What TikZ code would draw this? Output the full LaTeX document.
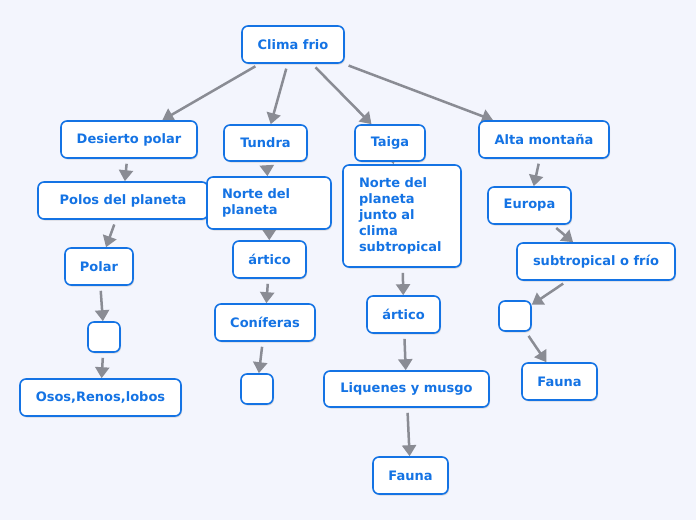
\documentclass[tikz,border=0pt]{standalone}
\usepackage{fontspec}
\setmainfont{DejaVu Sans}
\usetikzlibrary{arrows.meta,shadows}

\definecolor{fondo}{RGB}{243,245,253}
\definecolor{azul}{RGB}{20,115,228}
\definecolor{gris}{RGB}{138,140,148}

\pgfdeclarelayer{fondo}
\pgfdeclarelayer{flechas}
\pgfsetlayers{fondo,flechas,main}

\tikzset{
  tema/.style={draw=azul, line width=1.6pt, rounded corners=6pt, fill=white,
    text=azul, font=\bfseries\fontsize{13}{16}\selectfont,
    minimum height=37pt, inner sep=0pt,
    drop shadow={shadow xshift=1pt, shadow yshift=-1.5pt, opacity=.25}},
  vacio/.style={tema, minimum width=32pt, minimum height=30pt},
  enlace/.style={-{Triangle[width=14pt,length=11pt]}, draw=gris,
    line width=2.5pt, shorten <=5pt}
}

\begin{document}
\begin{tikzpicture}[x=1pt, y=-1pt]
    \begin{pgfonlayer}{fondo}
        \fill[fondo] (0,0) rectangle (696,520);
    \end{pgfonlayer}
    \useasboundingbox (0,0) rectangle (696,520);

    % raiz
    \node[tema, minimum width=102pt] (clima) at (293,44.5) {Clima frio};

    % primer nivel
    \node[tema, minimum width=136pt] (desierto) at (129,139.5) {Desierto polar};
    \node[tema, minimum width=83pt, minimum height=36pt] (tundra) at (265.5,143) {Tundra};
    \node[tema, minimum width=70pt, minimum height=36pt] (taiga) at (390,143) {Taiga};
    \node[tema, minimum width=130pt] (alta) at (544,139.5) {Alta montaña};

    % desierto polar
    \node[tema, minimum width=170pt] (polos) at (123,200.5) {Polos del planeta};
    \node[tema, minimum width=68pt] (polar) at (99,266.5) {Polar};
    \node[vacio] (vacioa) at (104,337) {};
    \node[tema, minimum width=161pt] (osos) at (100.5,397.5) {Osos,Renos,lobos};

    % tundra
    \node[tema, text width=94pt, inner xsep=15pt, minimum height=52pt, align=left]
        (norte) at (269,203) {Norte del\\planeta};
    \node[tema, minimum width=73pt] (articot) at (269.5,259.5) {ártico};
    \node[tema, minimum width=100pt] (coniferas) at (265,322.5) {Coníferas};
    \node[vacio] (vaciob) at (257,389) {};

    % taiga
    \node[tema, text width=86pt, inner xsep=16pt, minimum height=102pt, align=left]
        (nortetaiga) at (402,216) {Norte del\\planeta\\junto al\\clima\\subtropical};
    \node[tema, minimum width=73pt] (articob) at (403.5,314.5) {ártico};
    \node[tema, minimum width=165pt, minimum height=36pt] (liquenes) at (406.5,389) {Liquenes y musgo};
    \node[tema, minimum width=75pt] (faunab) at (410.5,475.5) {Fauna};

    % alta montana
    \node[tema, minimum width=83pt] (europa) at (529.5,205.5) {Europa};
    \node[tema, minimum width=158pt] (subtrop) at (596,261.5) {subtropical o frío};
    \node[vacio] (vacioc) at (515,316) {};
    \node[tema, minimum width=75pt] (faunac) at (559.5,381.5) {Fauna};

    \begin{pgfonlayer}{flechas}
        \draw[enlace] (clima) -- (desierto);
        \draw[enlace] (clima) -- (tundra);
        \draw[enlace] (clima) -- (taiga);
        \draw[enlace] (clima) -- (alta);

        \draw[enlace] (desierto) -- (polos);
        \draw[enlace] (polos) -- (polar);
        \draw[enlace] (polar) -- (vacioa);
        \draw[enlace] (vacioa) -- (osos);

        \draw[enlace] (tundra) -- (norte);
        \draw[enlace] (norte) -- (articot);
        \draw[enlace] (articot) -- (coniferas);
        \draw[enlace] (coniferas) -- (vaciob);

        \draw[enlace, shorten <=0pt] (taiga) -- (nortetaiga);
        \draw[enlace] (nortetaiga) -- (articob);
        \draw[enlace] (articob) -- (liquenes);
        \draw[enlace] (liquenes) -- (faunab);

        \draw[enlace] (alta) -- (europa);
        \draw[enlace] (europa) -- (subtrop);
        \draw[enlace] (subtrop) -- (vacioc);
        \draw[enlace] (vacioc) -- (faunac);
    \end{pgfonlayer}
\end{tikzpicture}
\end{document}
